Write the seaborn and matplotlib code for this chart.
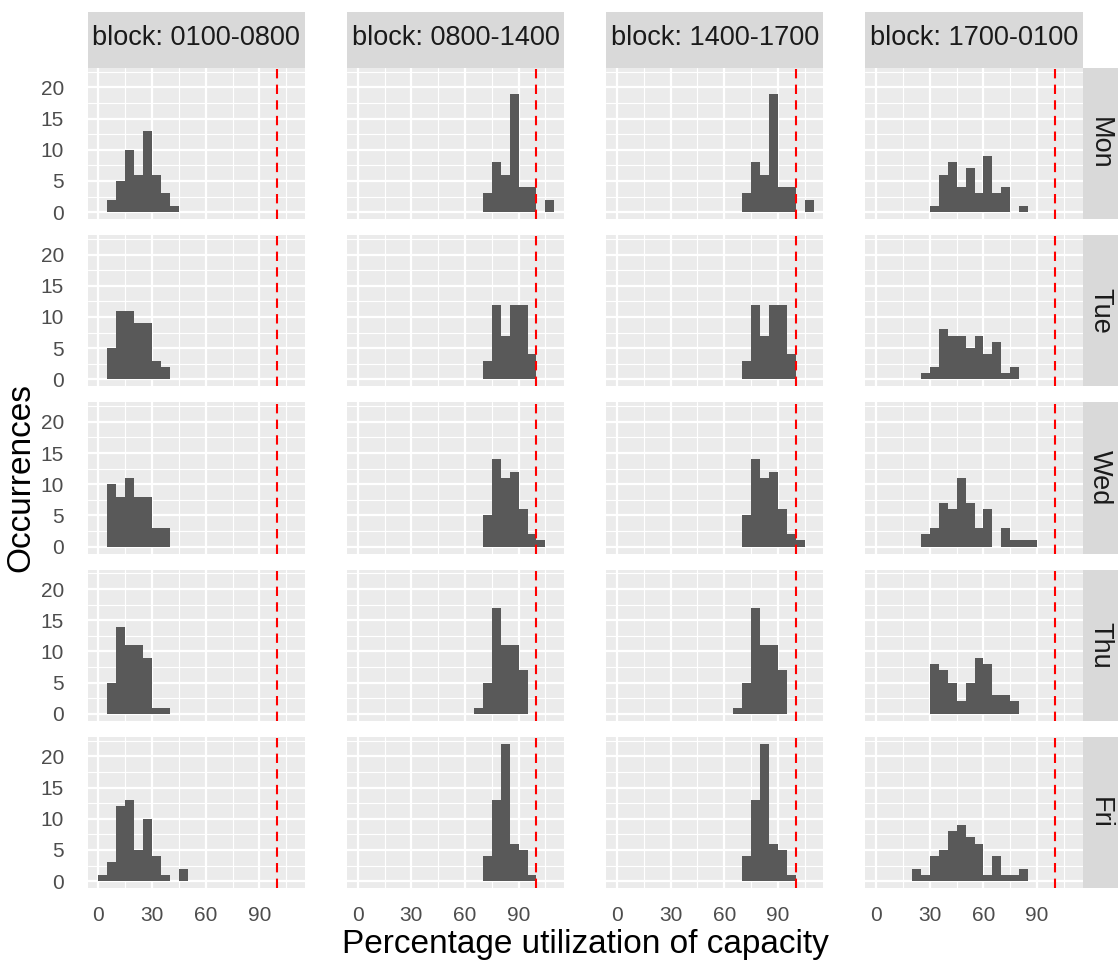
import numpy as np
import pandas as pd
import matplotlib
matplotlib.use("Agg")
import matplotlib.pyplot as plt
import seaborn as sns
from matplotlib.patches import Rectangle

# ---------------- data (counts per 5-point bin) ----------------
days = ["Mon", "Tue", "Wed", "Thu", "Fri"]
blocks = ["0100-0800", "0800-1400", "1400-1700", "1700-0100"]
binwidth = 5
threshold = 100

# block 0100-0800 : first bin start per day, then counts
start_0100 = [5, 5, 5, 5, 0]
counts_0100 = [
    [2, 5, 10, 6, 13, 6, 3, 1],
    [5, 11, 11, 9, 9, 3, 2],
    [10, 8, 11, 8, 8, 3, 3],
    [5, 14, 11, 11, 9, 1, 1],
    [1, 3, 12, 13, 5, 10, 4, 1, 0, 2],
]

# block 0800-1400
start_0800 = [70, 70, 70, 65, 70]
counts_0800 = [
    [3, 8, 6, 19, 4, 4, 0, 2],
    [3, 12, 7, 12, 12, 4],
    [5, 14, 11, 12, 6, 2, 1],
    [1, 5, 17, 11, 11, 7],
    [4, 13, 22, 6, 5, 1],
]

# block 1400-1700
start_1400 = [70, 70, 70, 65, 70]
counts_1400 = [
    [3, 8, 6, 19, 4, 4, 0, 2],
    [3, 12, 7, 12, 12, 4],
    [5, 14, 11, 12, 6, 2, 1],
    [1, 5, 17, 11, 11, 7],
    [4, 13, 22, 6, 5, 1],
]

# block 1700-0100
start_1700 = [30, 25, 25, 30, 20]
counts_1700 = [
    [1, 6, 8, 4, 7, 3, 9, 3, 4, 0, 1],
    [1, 2, 8, 7, 7, 5, 7, 4, 6, 1, 2],
    [2, 3, 7, 6, 11, 7, 3, 6, 0, 3, 1, 1, 1],
    [8, 7, 5, 2, 5, 9, 8, 3, 3, 2],
    [2, 1, 4, 5, 8, 9, 7, 6, 1, 4, 1, 1, 2],
]

x_breaks = [0, 30, 60, 90]
y_breaks = [0, 5, 10, 15, 20]

# ---------------- build long table ----------------
starts = [start_0100, start_0800, start_1400, start_1700]
counts = [counts_0100, counts_0800, counts_1400, counts_1700]
rows = []
for b, blk in enumerate(blocks):
    for d, day in enumerate(days):
        s = starts[b][d]
        for k, c in enumerate(counts[b][d]):
            rows.append({"block": blk, "day": day,
                         "util": s + binwidth * k + binwidth / 2, "n": c})
df = pd.DataFrame(rows)

# ---------------- style ----------------
sns.set_theme(style="darkgrid", rc={
    "axes.facecolor": "#EBEBEB",
    "grid.color": "white",
    "figure.facecolor": "white",
})
plt.rcParams["font.family"] = ["Liberation Sans", "DejaVu Sans"]

W, H = 1120, 969
fig = plt.figure(figsize=(W / 100, H / 100), dpi=100)
gs = fig.add_gridspec(5, 4, left=87.7 / W, right=1082.7 / W,
                      top=1 - 68 / H, bottom=1 - 888 / H,
                      wspace=0.1935, hspace=0.1076)

strip_col = "#D9D9D9"
tick_col = "#4D4D4D"
for r, day in enumerate(days):
    for c, blk in enumerate(blocks):
        ax = fig.add_subplot(gs[r, c])
        sub = df[(df["block"] == blk) & (df["day"] == day)]
        sns.histplot(data=sub, x="util", weights="n", binwidth=binwidth,
                     binrange=(0, 110), color="#595959", alpha=1,
                     linewidth=0, edgecolor="none", ax=ax, zorder=2)
        ax.axvline(threshold, color="red", lw=1.5, ls=(0, (4.5, 3)), zorder=3)
        ax.set_xlim(-6, 115.5)
        ax.set_ylim(-1.1, 23.1)
        ax.set_xticks(x_breaks)
        ax.set_xticks([15, 45, 75, 105], minor=True)
        ax.set_yticks(y_breaks)
        ax.set_yticks([2.5, 7.5, 12.5, 17.5, 22.5], minor=True)
        ax.grid(which="major", color="white", lw=1.6, zorder=0)
        ax.grid(which="minor", color="white", lw=0.8, zorder=0)
        ax.set_axisbelow(True)
        for sp in ax.spines.values():
            sp.set_visible(False)
        ax.set_xlabel("")
        ax.set_ylabel("")
        ax.tick_params(which="minor", length=0)
        ax.tick_params(which="major", colors="#333333", labelcolor=tick_col,
                       labelsize=15, length=7, width=1.3, pad=6)
        ax.tick_params(axis="y", which="major", pad=10)
        if c != 0:
            ax.tick_params(axis="y", which="major", left=False, labelleft=False)
        if r != 4:
            ax.tick_params(axis="x", which="major", bottom=False, labelbottom=False)
        if r == 0:
            h = 56 / 151
            ax.add_patch(Rectangle((0, 1), 1, h, transform=ax.transAxes,
                                   clip_on=False, facecolor=strip_col,
                                   edgecolor="none"))
            ax.text(0.5, 1 + 0.53 * h, f"block: {blk}", transform=ax.transAxes,
                    ha="center", va="center", fontsize=19.5, color="#1A1A1A")
        if c == 3:
            w = 35 / 217.2
            ax.add_patch(Rectangle((1, 0), w, 1, transform=ax.transAxes,
                                   clip_on=False, facecolor=strip_col,
                                   edgecolor="none"))
            ax.text(1 + w / 2, 0.5, day, transform=ax.transAxes,
                    ha="center", va="center", rotation=-90,
                    fontsize=19.5, color="#1A1A1A")

fig.text(585 / W, 1 - 944 / H, "Percentage utilization of capacity",
         ha="center", va="center", fontsize=24, color="black")
fig.text(21 / W, 1 - 478 / H, "Occurrences", ha="center", va="center",
         rotation=90, fontsize=24, color="black")

fig.savefig("out.png", dpi=100)
